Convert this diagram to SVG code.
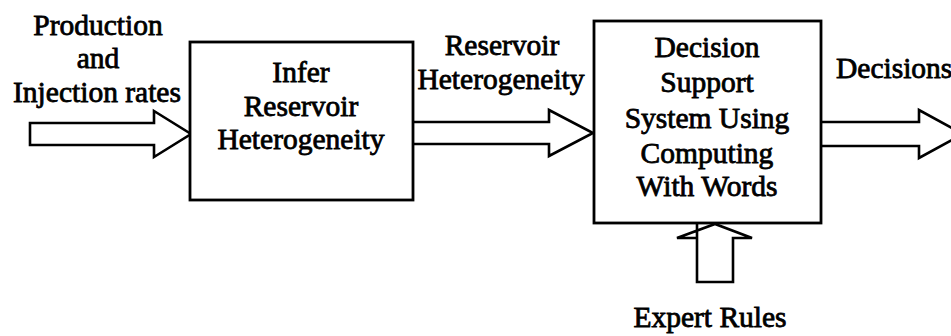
<svg xmlns="http://www.w3.org/2000/svg" width="951" height="336" viewBox="0 0 951 336">
  <style>
    .box { fill: #fff; stroke: #000; stroke-width: 2.8; }
    .arrow { fill: #fff; stroke: #000; stroke-width: 2.6; stroke-linejoin: miter; }
    text { font-family: "Liberation Serif", "Times New Roman", serif; font-size: 29.5px; fill: #000; stroke: #000; stroke-width: 0.8; text-anchor: middle; }
    .start { text-anchor: start; }
  </style>
  <rect width="951" height="336" fill="#fff"/>

  <!-- block arrows between the stages -->
  <g id="connectors">
    <polygon class="arrow" points="30,123 154,123 154,111 191,134 154,157 154,145 30,145"/>
    <polyline class="arrow" points="413,122 549,122 549,110 593,133 549,156 549,144 413,144"/>
    <polyline class="arrow" points="821,122 919,122 919,110 963,134 919,158 919,146 821,146"/>
    <polyline class="arrow" points="697,224 697,282 733,282 733,238 752,238 715,224 677,238 697,238 697,282"/>
  </g>

  <g id="input-label">
    <text x="98" y="35">Production</text>
    <text x="98" y="68">and</text>
    <text x="97" y="102">Injection rates</text>
  </g>

  <g id="infer">
    <rect class="box" x="190" y="42" width="223" height="158"/>
    <text x="301" y="82">Infer</text>
    <text x="301" y="116">Reservoir</text>
    <text x="301" y="149">Heterogeneity</text>
  </g>

  <g id="heterogeneity-label">
    <text x="502" y="55">Reservoir</text>
    <text x="501" y="89">Heterogeneity</text>
  </g>

  <g id="decision-support">
    <rect class="box" x="594" y="21" width="227" height="202"/>
    <text x="707" y="57">Decision</text>
    <text x="707" y="92">Support</text>
    <text x="707" y="128">System Using</text>
    <text x="707" y="163">Computing</text>
    <text x="707" y="196">With Words</text>
  </g>

  <g id="decisions-label">
    <text class="start" x="836" y="78">Decisions</text>
  </g>

  <g id="expert-rules-label">
    <text x="710" y="327">Expert Rules</text>
  </g>
</svg>
